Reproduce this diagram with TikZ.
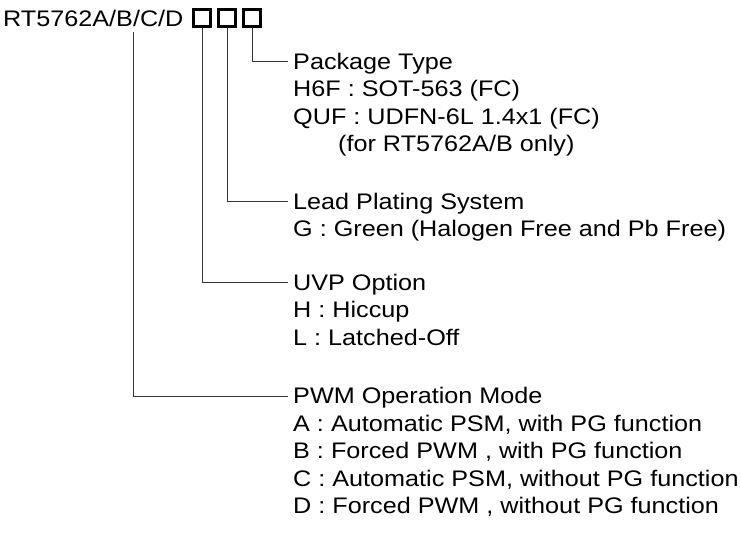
\documentclass[tikz,border=0pt]{standalone}
\usepackage{fontspec}
\setmainfont{Liberation Sans}[FakeStretch=1.12]
\begin{document}
\begin{tikzpicture}[x=1pt,y=-1pt,
  lbl/.style={anchor=base west, inner sep=0pt, text height=15pt, text depth=0pt,
              font=\fontsize{22.5}{27.5}\selectfont},
  box/.style={draw, line width=2.6pt, minimum size=16.5pt, inner sep=0pt},
  conn/.style={draw=black!80, line width=1pt, shorten >=5pt}]
\useasboundingbox[fill=white] (0,0) rectangle (741,534);
% part number
\node[lbl] (pn) at (3,27) {RT5762A/B/C/D};
\node[box] (b1) at (202,18) {};
\node[box] (b2) at (227,18) {};
\node[box] (b3) at (252,18) {};
\coordinate (bB) at (133,32);
% package type
\node[lbl] (pkg) at (293,69.2) {Package Type};
\node[lbl] (pkg1) at (293,96.7) {H6F : SOT-563 (FC)};
\node[lbl] (pkg2) at (293,124.2) {QUF : UDFN-6L 1.4x1 (FC)};
\node[lbl] (pkg3) at (338,151.7) {(for RT5762A/B only)};
% lead plating
\node[lbl] (lead) at (293,209.5) {Lead Plating System};
\node[lbl] (lead1) at (293,237) {G : Green (Halogen Free and Pb Free)};
% UVP
\node[lbl] (uvp) at (293,290.5) {UVP Option};
\node[lbl] (uvp1) at (293,318) {H : Hiccup};
\node[lbl] (uvp2) at (293,345.5) {L : Latched-Off};
% PWM
\node[lbl] (pwm) at (293,403.5) {PWM Operation Mode};
\node[lbl] (pwm1) at (293,431) {A : Automatic PSM, with PG function};
\node[lbl] (pwm2) at (293,458.5) {B : Forced PWM , with PG function};
\node[lbl] (pwm3) at (293,486) {C : Automatic PSM, without PG function};
\node[lbl] (pwm4) at (293,513.5) {D : Forced PWM , without PG function};
% connectors
\draw[conn] (b3.south) |- (pkg.west);
\draw[conn] (b2.south) |- (lead.west);
\draw[conn] (b1.south) |- (uvp.west);
\draw[conn] (bB) |- (pwm.west);
\end{tikzpicture}
\end{document}
